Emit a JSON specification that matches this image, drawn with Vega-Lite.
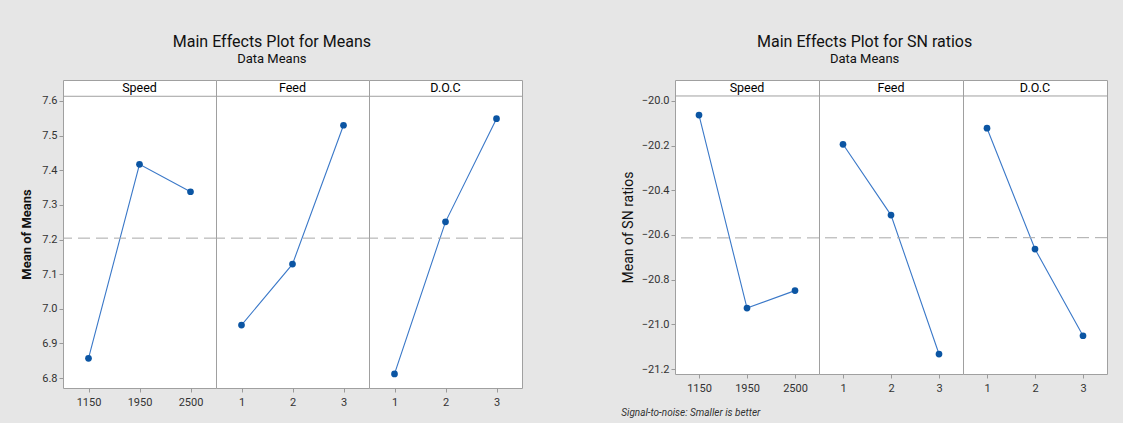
{
  "$schema": "https://vega.github.io/schema/vega-lite/v6.json",
  "background": "#e6e6e6",
  "padding": {"left": 20, "top": 33, "right": 18, "bottom": 10},
  "config": {
    "font": "Roboto",
    "view": {"stroke": "#a0a0a0", "strokeWidth": 1, "fill": "white"},
    "axis": {"domain": false, "grid": false, "tickColor": "#9a9a9a", "tickSize": 4, "labelColor": "#333333", "labelFontSize": 11, "labelFont": "Roboto", "labelOverlap": false, "titleColor": "#111111", "titleFont": "Roboto"},
    "concat": {"spacing": 98},
    "facet": {"spacing": 0}
  },
  "datasets": {
    "means": [
      {"factor": "Speed", "level": "1150", "idx": 1, "value": 6.857},
      {"factor": "Speed", "level": "1950", "idx": 2, "value": 7.417},
      {"factor": "Speed", "level": "2500", "idx": 3, "value": 7.338},
      {"factor": "Feed", "level": "1", "idx": 1, "value": 6.953},
      {"factor": "Feed", "level": "2", "idx": 2, "value": 7.129},
      {"factor": "Feed", "level": "3", "idx": 3, "value": 7.530},
      {"factor": "D.O.C", "level": "1", "idx": 1, "value": 6.812},
      {"factor": "D.O.C", "level": "2", "idx": 2, "value": 7.251},
      {"factor": "D.O.C", "level": "3", "idx": 3, "value": 7.549}
    ],
    "sn": [
      {"factor": "Speed", "level": "1150", "idx": 1, "value": -20.063},
      {"factor": "Speed", "level": "1950", "idx": 2, "value": -20.927},
      {"factor": "Speed", "level": "2500", "idx": 3, "value": -20.849},
      {"factor": "Feed", "level": "1", "idx": 1, "value": -20.194},
      {"factor": "Feed", "level": "2", "idx": 2, "value": -20.511},
      {"factor": "Feed", "level": "3", "idx": 3, "value": -21.133},
      {"factor": "D.O.C", "level": "1", "idx": 1, "value": -20.122},
      {"factor": "D.O.C", "level": "2", "idx": 2, "value": -20.663},
      {"factor": "D.O.C", "level": "3", "idx": 3, "value": -21.051}
    ]
  },
  "hconcat": [
    {
      "data": {"name": "means"},
      "title": {"text": "Main Effects Plot for Means", "subtitle": "Data Means", "anchor": "middle", "frame": "bounds", "fontSize": 16, "fontWeight": "normal", "color": "#111111", "subtitleFontSize": 13, "subtitleColor": "#111111", "subtitlePadding": 3, "offset": 14},
      "facet": {"column": {"field": "factor", "type": "nominal", "sort": ["Speed", "Feed", "D.O.C"], "header": {"title": null, "labels": false}}},
      "spacing": 0,
      "bounds": "flush",
      "resolve": {"scale": {"x": "independent"}},
      "spec": {
        "width": 153,
        "height": 308,
        "layer": [
          {
            "mark": {"type": "line", "color": "#3a78c8", "strokeWidth": 1.1},
            "encoding": {
              "x": {"field": "level", "type": "ordinal", "axis": {"title": null, "labelAngle": 0, "labelPadding": 4}},
              "y": {"field": "value", "type": "quantitative", "title": "Mean of Means",
                "scale": {"domain": [6.7713, 7.6606], "nice": false, "zero": false},
                "axis": {"values": [6.8, 6.9, 7.0, 7.1, 7.2, 7.3, 7.4, 7.5, 7.6], "labelOverlap": false, "format": ".1f", "titleFontWeight": "bold", "titleFontSize": 13, "titlePadding": 8}}
            }
          },
          {
            "mark": {"type": "point", "filled": true, "size": 45, "color": "#0b55a3", "opacity": 1},
            "encoding": {
              "x": {"field": "level", "type": "ordinal"},
              "y": {"field": "value", "type": "quantitative", "title": "Mean of Means",
                "axis": {"values": [6.8, 6.9, 7.0, 7.1, 7.2, 7.3, 7.4, 7.5, 7.6], "labelOverlap": false, "format": ".1f", "titleFontWeight": "bold", "titleFontSize": 13, "titlePadding": 8}}
            }
          },
          {
            "mark": {"type": "rule", "strokeDash": [12, 6], "color": "#a8a8a8", "strokeWidth": 1},
            "encoding": {"y": {"aggregate": "mean", "field": "value", "type": "quantitative", "title": "Mean of Means",
              "axis": {"values": [6.8, 6.9, 7.0, 7.1, 7.2, 7.3, 7.4, 7.5, 7.6], "labelOverlap": false, "format": ".1f", "titleFontWeight": "bold", "titleFontSize": 13, "titlePadding": 8}}}
          },
          {
            "transform": [{"filter": "datum.idx == 1"}],
            "mark": {"type": "rule", "color": "#a0a0a0", "strokeWidth": 1},
            "encoding": {"y": {"datum": 7.6136, "type": "quantitative", "title": "Mean of Means",
              "axis": {"values": [6.8, 6.9, 7.0, 7.1, 7.2, 7.3, 7.4, 7.5, 7.6], "labelOverlap": false, "format": ".1f", "titleFontWeight": "bold", "titleFontSize": 13, "titlePadding": 8}}}
          },
          {
            "transform": [{"filter": "datum.idx == 1"}],
            "mark": {"type": "text", "fontSize": 12.5, "color": "#000000", "baseline": "middle", "align": "center"},
            "encoding": {"y": {"datum": 7.6375, "type": "quantitative", "title": "Mean of Means",
              "axis": {"values": [6.8, 6.9, 7.0, 7.1, 7.2, 7.3, 7.4, 7.5, 7.6], "labelOverlap": false, "format": ".1f", "titleFontWeight": "bold", "titleFontSize": 13, "titlePadding": 8}}, "text": {"field": "factor"}}
          }
        ]
      }
    },
    {
      "title": {"text": "Signal-to-noise: Smaller is better", "orient": "bottom", "anchor": "start", "frame": "bounds", "fontSize": 10, "fontStyle": "italic", "fontWeight": "normal", "color": "#333333", "offset": 14},
      "vconcat": [
        {
          "data": {"name": "sn"},
          "title": {"text": "Main Effects Plot for SN ratios", "subtitle": "Data Means", "anchor": "middle", "frame": "bounds", "fontSize": 16, "fontWeight": "normal", "color": "#111111", "subtitleFontSize": 13, "subtitleColor": "#111111", "subtitlePadding": 3, "offset": 14},
          "facet": {"column": {"field": "factor", "type": "nominal", "sort": ["Speed", "Feed", "D.O.C"], "header": {"title": null, "labels": false}}},
          "spacing": 0,
          "bounds": "flush",
          "resolve": {"scale": {"x": "independent"}},
          "spec": {
            "width": 144,
            "height": 294,
            "layer": [
              {
                "mark": {"type": "line", "color": "#3a78c8", "strokeWidth": 1.1},
                "encoding": {
                  "x": {"field": "level", "type": "ordinal", "axis": {"title": null, "labelAngle": 0, "labelPadding": 4}},
                  "y": {"field": "value", "type": "quantitative", "title": "Mean of SN ratios",
                    "scale": {"domain": [-21.2223, -19.9061], "nice": false, "zero": false},
                    "axis": {"values": [-21.2, -21.0, -20.8, -20.6, -20.4, -20.2, -20.0], "labelOverlap": false, "format": ".1f", "titleFontWeight": "normal", "titleFontSize": 14, "titlePadding": 6}}
                }
              },
              {
                "mark": {"type": "point", "filled": true, "size": 45, "color": "#0b55a3", "opacity": 1},
                "encoding": {
                  "x": {"field": "level", "type": "ordinal"},
                  "y": {"field": "value", "type": "quantitative", "title": "Mean of SN ratios",
                    "axis": {"values": [-21.2, -21.0, -20.8, -20.6, -20.4, -20.2, -20.0], "labelOverlap": false, "format": ".1f", "titleFontWeight": "normal", "titleFontSize": 14, "titlePadding": 6}}
                }
              },
              {
                "mark": {"type": "rule", "strokeDash": [12, 6], "color": "#a8a8a8", "strokeWidth": 1},
                "encoding": {"y": {"aggregate": "mean", "field": "value", "type": "quantitative", "title": "Mean of SN ratios",
                  "axis": {"values": [-21.2, -21.0, -20.8, -20.6, -20.4, -20.2, -20.0], "labelOverlap": false, "format": ".1f", "titleFontWeight": "normal", "titleFontSize": 14, "titlePadding": 6}}}
              },
              {
                "transform": [{"filter": "datum.idx == 1"}],
                "mark": {"type": "rule", "color": "#a0a0a0", "strokeWidth": 1},
                "encoding": {"y": {"datum": -19.9776, "type": "quantitative", "title": "Mean of SN ratios",
                  "axis": {"values": [-21.2, -21.0, -20.8, -20.6, -20.4, -20.2, -20.0], "labelOverlap": false, "format": ".1f", "titleFontWeight": "normal", "titleFontSize": 14, "titlePadding": 6}}}
              },
              {
                "transform": [{"filter": "datum.idx == 1"}],
                "mark": {"type": "text", "fontSize": 12.5, "color": "#000000", "baseline": "middle", "align": "center"},
                "encoding": {"y": {"datum": -19.9419, "type": "quantitative", "title": "Mean of SN ratios",
                  "axis": {"values": [-21.2, -21.0, -20.8, -20.6, -20.4, -20.2, -20.0], "labelOverlap": false, "format": ".1f", "titleFontWeight": "normal", "titleFontSize": 14, "titlePadding": 6}}, "text": {"field": "factor"}}
              }
            ]
          }
        }
      ]
    }
  ]
}
